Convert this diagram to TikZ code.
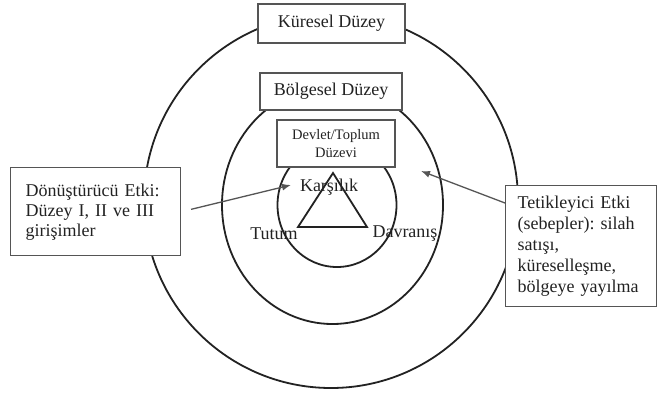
\documentclass[tikz,border=0pt]{standalone}
\usepackage{fontspec}
\setmainfont{Liberation Serif}
\usetikzlibrary{arrows.meta}
\definecolor{ink}{HTML}{222222}
\definecolor{frame}{HTML}{555555}

\begin{document}
\frenchspacing
\begin{tikzpicture}[x=1pt,y=-1pt,
  ring/.style={draw=ink,line width=1.8pt},
  levelbox/.style={draw=frame,line width=1.4pt,fill=white,inner sep=0pt,text=ink},
  lbl/.style={text=ink,inner sep=1pt,font=\fontsize{18}{21}\selectfont},
  effect/.style={draw=frame,line width=1.3pt,-{Latex[length=9pt,width=7pt]}}]
\useasboundingbox (0,0) rectangle (658,392);
\fill[white] (0,0) rectangle (658,392);

% nested levels
\draw[ring] (331,201) circle[radius=187];
\draw[ring] (332.5,205) ellipse[x radius=110.5,y radius=119];
\draw[ring] (337,205) ellipse[x radius=59.5,y radius=62];

% conflict triangle
\draw[ring,line join=miter] (333,173) -- (298,227) -- (367,227) -- cycle;
\node[lbl] (kar) at (329,187) {Karşılık};
\node[lbl] (tut) at (274,234) {Tutum};
\node[lbl] (dav) at (405,234) {Davranış};

% level labels
\node[levelbox,minimum width=147pt,minimum height=39pt,font=\fontsize{18}{21}\selectfont] (kur) at (331.5,23.5) {Küresel Düzey};
\node[levelbox,minimum width=142pt,minimum height=37pt,font=\fontsize{18}{21}\selectfont] (bol) at (331,91.5) {Bölgesel Düzey};
\node[levelbox,minimum width=118pt,minimum height=47pt,align=center,font=\fontsize{14.5}{17.5}\selectfont] (dev) at (336,143.5) {Devlet/Toplum\\Düzevi};

% effects
\node[levelbox,anchor=north west,text width=140pt,inner xsep=15pt,minimum height=88pt,align=left,font=\fontsize{18}{20}\selectfont] (don) at (10,167) {Dönüştürücü Etki:\\Düzey I, II ve III\\girişimler};
\node[levelbox,anchor=north west,text width=127pt,inner xsep=12pt,minimum height=121pt,align=left,font=\fontsize{18}{21}\selectfont] (tet) at (505,185) {Tetikleyici Etki\\(sebepler): silah\\satışı,\\küreselleşme,\\bölgeye yayılma};

\coordinate (tipL) at (291,185);
\coordinate (tipR) at (421,171);
\draw[effect,shorten <=10pt] (don.east) -- (tipL);
\draw[effect] ([yshift=-18pt]tet.north west) -- (tipR);
\end{tikzpicture}
\end{document}
